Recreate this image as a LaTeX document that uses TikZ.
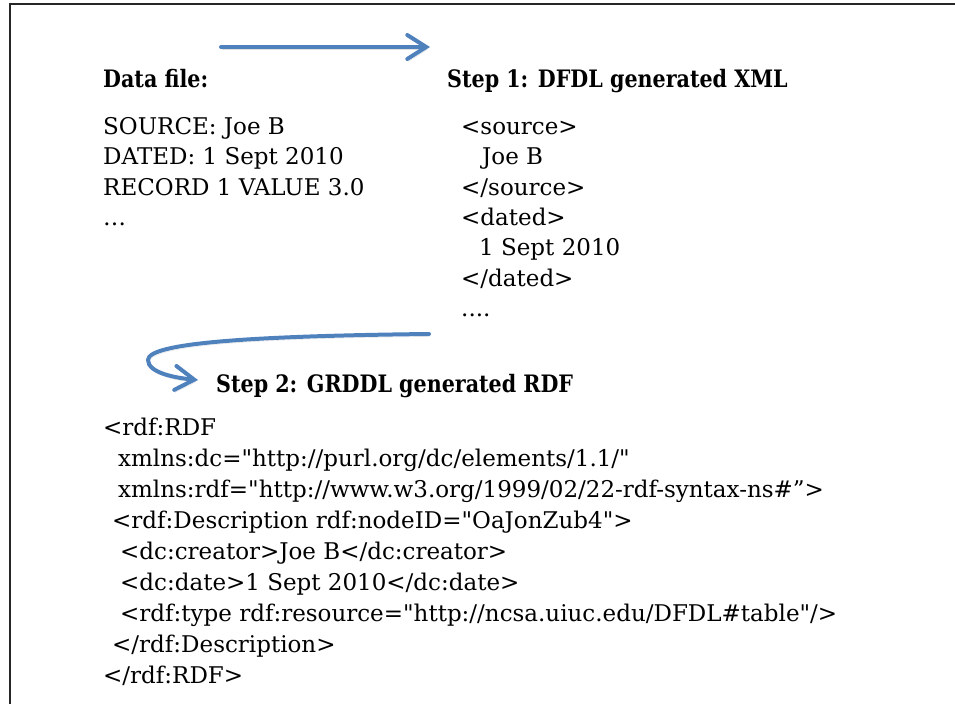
\documentclass[tikz,border=0pt]{standalone}
\usepackage{fontspec}
\setmainfont{DejaVu Serif}[Ligatures=TeXOff, BoldFeatures={FakeStretch=0.86}]
\usetikzlibrary{arrows.meta}
\definecolor{flowblue}{HTML}{4F81BD}
\tikzset{
  txt/.style={anchor=base west, inner sep=0pt, font=\fontsize{23}{28}\selectfont},
  head/.style={txt, font=\fontsize{24}{29}\selectfont\bfseries},
  flow/.style={draw=flowblue, line width=4pt, line cap=round,
    -{Straight Barb[length=19pt, width=24pt, line cap=round]},
    preaction={draw=black, opacity=0.12, transform canvas={shift={(1pt,-2.5pt)}}}},
  frameline/.style={draw=black!85, line width=1.6pt}
}
\begin{document}
\begin{tikzpicture}[x=1pt, y=-1pt]
\useasboundingbox (0,0) rectangle (955,704);
% frame (top and left edges)
\draw[frameline] (955,4) -- (10,4) -- (10,704);

% left column: raw data file
\node[head] (dfh) at (103,87) {Data file:};
\node[txt] (d1) at (103,134) {SOURCE: Joe B};
\node[txt] (d2) at (103,164) {DATED: 1 Sept 2010};
\node[txt] (d3) at (103,195) {RECORD 1 VALUE 3.0};
\node[txt] (d4) at (103,225) {…};

% right column: XML from DFDL
\node[head] (s1h) at (447,87) {Step 1: DFDL generated XML};
\node[txt] (x1) at (461,134) {<source>};
\node[txt] (x2) at (482,164) {Joe B};
\node[txt] (x3) at (461,195) {</source>};
\node[txt] (x4) at (461,225) {<dated>};
\node[txt] (x5) at (479,255) {1 Sept 2010};
\node[txt] (x6) at (461,286) {</dated>};
\node[txt] (x7) at (461,316) {....};

% step 2 heading and RDF output
\node[head] (s2h) at (216,392) {Step 2: GRDDL generated RDF};
\node[txt] (r1) at (103,435) {<rdf:RDF};
\node[txt] (r2) at (118,466) {xmlns:dc="http://purl.org/dc/elements/1.1/"};
\node[txt] (r3) at (118,497) {xmlns:rdf="http://www.w3.org/1999/02/22-rdf-syntax-ns\#”>};
\node[txt] (r4) at (112,528) {<rdf:Description rdf:nodeID="OaJonZub4">};
\node[txt] (r5) at (120,559) {<dc:creator>Joe B</dc:creator>};
\node[txt] (r6) at (120,590) {<dc:date>1 Sept 2010</dc:date>};
\node[txt] (r7) at (120,621) {<rdf:type rdf:resource="http://ncsa.uiuc.edu/DFDL\#table"/>};
\node[txt] (r8) at (112,652) {</rdf:Description>};
\node[txt] (r9) at (103,683) {</rdf:RDF>};

% flow arrows
\coordinate (a1s) at (221,47);
\coordinate (a1e) at (430,47);
\coordinate (a2s) at (429,334);
\coordinate (a2e) at (198,380);
\draw[flow] (a1s) -- (a1e);
\draw[flow] (a2s) .. controls (250,336) and (148,343) .. (148,360)
               .. controls (148,373) and (176,378) .. (a2e);
\end{tikzpicture}
\end{document}
